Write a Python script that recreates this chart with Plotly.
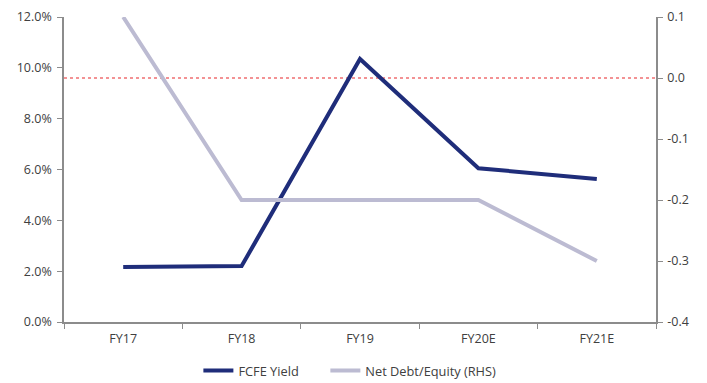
import plotly.graph_objects as go

# Fiscal years and series
years = ["FY17", "FY18", "FY19", "FY20E", "FY21E"]
fcfe_yield = [0.0216, 0.0220, 0.1035, 0.0605, 0.0563]
net_debt_equity = [0.1, -0.2, -0.2, -0.2, -0.3]

left_ticks = [0.0, 0.02, 0.04, 0.06, 0.08, 0.10, 0.12]
right_ticks = [-0.4, -0.3, -0.2, -0.1, 0.0, 0.1]
right_labels = ["-0.4", "-0.3", "-0.2", "-0.1", "0.0", "0.1"]

axis_color = "#8c8c8c"
text_color = "#404040"
font_family = "Open Sans, Noto Sans, sans-serif"

fig = go.Figure()
fig.add_trace(go.Scatter(
    x=years, y=fcfe_yield, name="FCFE Yield", mode="lines",
    line=dict(color="#1f2d7a", width=4), yaxis="y", legend="legend",
))
fig.add_trace(go.Scatter(
    x=years, y=net_debt_equity, name="Net Debt/Equity (RHS)", mode="lines",
    line=dict(color="#bcbbd2", width=4), yaxis="y2", legend="legend2",
))

# Zero reference on the right-hand axis
fig.add_shape(type="line", xref="paper", x0=0, x1=1, yref="y2", y0=0, y1=0,
              line=dict(color="#e8262b", width=1.2, dash="dot"), layer="below")

legend_style = dict(orientation="h", xanchor="left", y=-0.16, yanchor="middle",
                    font=dict(size=12.8, color=text_color), itemwidth=30,
                    bgcolor="rgba(0,0,0,0)")

fig.update_layout(
    width=707, height=383,
    margin=dict(l=64, r=51, t=17, b=61, autoexpand=False),
    plot_bgcolor="white", paper_bgcolor="white",
    font=dict(family=font_family, size=12.5, color=text_color),
    showlegend=True,
    legend=dict(x=0.227, **legend_style),
    legend2=dict(x=0.4415, **legend_style),
    xaxis=dict(
        type="category", range=[-0.5, len(years) - 0.5],
        showline=True, linecolor=axis_color, linewidth=1.5,
        ticks="outside", tickson="boundaries", ticklen=5, tickcolor=axis_color,
        showgrid=False, zeroline=False, tickfont=dict(size=12.5),
        ticklabelstandoff=4,
    ),
    yaxis=dict(
        range=[0, 0.12], tickvals=left_ticks, tickformat=".1%",
        showline=True, linecolor=axis_color, linewidth=1.5,
        ticks="outside", ticklen=5, tickcolor=axis_color,
        showgrid=False, zeroline=False, tickfont=dict(size=12.5),
        ticklabelstandoff=3,
    ),
    yaxis2=dict(
        range=[-0.4, 0.1], tickvals=right_ticks, ticktext=right_labels,
        overlaying="y", side="right",
        showline=True, linecolor=axis_color, linewidth=1.5,
        ticks="outside", ticklen=5, tickcolor=axis_color,
        showgrid=False, zeroline=False, tickfont=dict(size=12.5),
        ticklabelstandoff=2,
    ),
)

fig.write_html("out.html")
